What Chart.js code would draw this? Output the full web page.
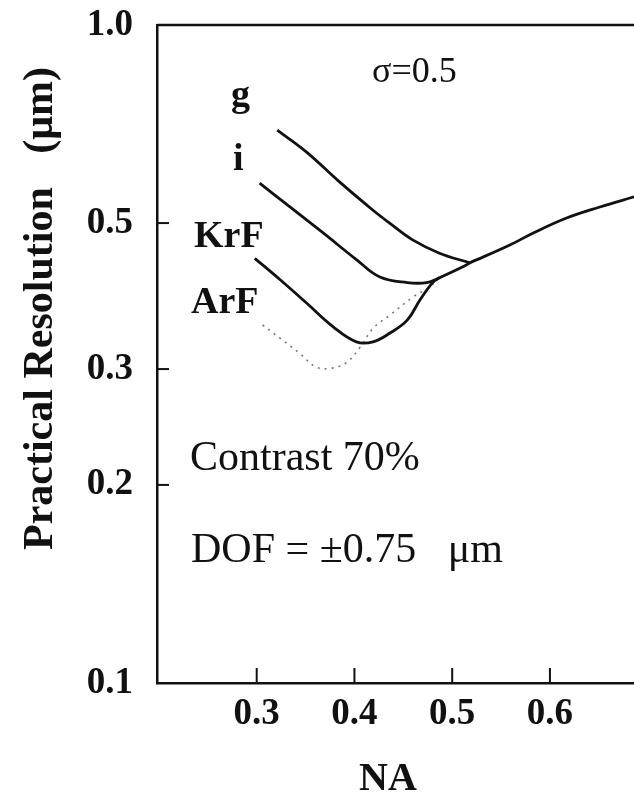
<!DOCTYPE html>
<html><head><meta charset="utf-8">
<script src="https://cdn.jsdelivr.net/npm/chart.js@4.4.0/dist/chart.umd.min.js"></script>
<style>html,body{margin:0;padding:0;background:#fff;}#wrap{width:634px;height:793px;position:relative;}</style>
</head><body><div id="wrap"><canvas id="c" width="634" height="793"></canvas></div>
<script>
// ---- data ----
const xTicks = [0.3, 0.4, 0.5, 0.6];
const yTicks = [0.1, 0.2, 0.3, 0.5, 1.0];

const gNA   = [0.321, 0.351, 0.385, 0.419, 0.436, 0.460, 0.487, 0.518];
const gRes  = [0.692, 0.641, 0.577, 0.523, 0.500, 0.471, 0.450, 0.435];

const iNA   = [0.303, 0.334, 0.368, 0.402, 0.426, 0.454, 0.474, 0.487, 0.511, 0.518];
const iRes  = [0.575, 0.529, 0.483, 0.440, 0.414, 0.406, 0.406, 0.413, 0.429, 0.435];

const krfNA  = [0.298, 0.324, 0.351, 0.378, 0.402, 0.419, 0.436, 0.454, 0.467, 0.480, 0.487];
const krfRes = [0.442, 0.410, 0.378, 0.348, 0.330, 0.330, 0.340, 0.356, 0.382, 0.406, 0.413];

const arfNA  = [0.306, 0.324, 0.344, 0.361, 0.377, 0.392, 0.406, 0.419, 0.436, 0.460, 0.477, 0.487];
const arfRes = [0.350, 0.334, 0.317, 0.302, 0.301, 0.307, 0.324, 0.346, 0.362, 0.386, 0.400, 0.413];

const commonNA  = [0.518, 0.559, 0.583, 0.617, 0.651, 0.686];
const commonRes = [0.435, 0.463, 0.483, 0.509, 0.529, 0.548];

const seriesNames = ['g', 'i', 'KrF', 'ArF'];

const pts = (xs, ys) => xs.map((x, k) => ({x: x, y: ys[k]}));
const SERIF = '"Liberation Serif", "DejaVu Serif", serif';
const INK = '#111';

function lineDs(label, xs, ys, opts) {
  return Object.assign({
    label: label, data: pts(xs, ys), borderColor: INK, borderWidth: 2.8,
    pointRadius: 0, fill: false, tension: 0.4
  }, opts || {});
}

const decor = {
  id: 'decor',
  afterDraw(chart) {
    const ctx = chart.ctx, a = chart.chartArea;
    const xs = chart.scales.x, ys = chart.scales.y;
    ctx.save();
    ctx.strokeStyle = INK; ctx.lineWidth = 2.5;
    // top frame line
    ctx.beginPath(); ctx.moveTo(a.left, a.top); ctx.lineTo(a.right, a.top); ctx.stroke();
    // inward tick marks
    ctx.lineWidth = 2;
    xTicks.forEach(v => { const p = xs.getPixelForValue(v);
      ctx.beginPath(); ctx.moveTo(p, a.bottom); ctx.lineTo(p, a.bottom - 15); ctx.stroke(); });
    yTicks.slice(1, -1).forEach(v => { const p = ys.getPixelForValue(v);
      ctx.beginPath(); ctx.moveTo(a.left, p); ctx.lineTo(a.left + 12, p); ctx.stroke(); });

    ctx.fillStyle = INK; ctx.textBaseline = 'alphabetic'; ctx.textAlign = 'left';
    // curve names
    ctx.font = 'bold 38px ' + SERIF;
    ctx.fillText(seriesNames[0], 231, 106);
    ctx.fillText(seriesNames[1], 233, 170);
    ctx.fillText(seriesNames[2], 194, 247);
    ctx.fillText(seriesNames[3], 191, 313);
    // sigma
    ctx.font = '36px ' + SERIF;
    ctx.fillText('\u03C3=0.5', 372, 82);
    // notes
    ctx.font = '42px ' + SERIF;
    ctx.fillText('Contrast 70%', 190, 470);
    ctx.fillText('DOF = \u00B10.75   \u03BCm', 191, 562);
    // x title
    ctx.font = 'bold 40px ' + SERIF; ctx.textAlign = 'center';
    ctx.fillText('NA', 388, 790);
    // y title (rotated)
    ctx.font = 'bold 42px ' + SERIF;
    ctx.save(); ctx.translate(52, 550); ctx.rotate(-Math.PI / 2);
    ctx.textAlign = 'left'; ctx.fillText('Practical Resolution', 0, 0); ctx.restore();
    ctx.save(); ctx.translate(52, 67); ctx.rotate(-Math.PI / 2);
    ctx.textAlign = 'right'; ctx.fillText('(\u03BCm)', 0, 0); ctx.restore();
    ctx.restore();
  }
};

new Chart(document.getElementById('c'), {
  type: 'line',
  data: { datasets: [
    lineDs(seriesNames[0], gNA, gRes),
    lineDs(seriesNames[1], iNA, iRes),
    lineDs(seriesNames[2], krfNA, krfRes),
    lineDs(seriesNames[3], arfNA, arfRes, {borderColor: '#777', borderWidth: 1.6, borderDash: [2, 5]}),
    lineDs('common', commonNA, commonRes)
  ]},
  options: {
    responsive: false, animation: false, devicePixelRatio: 1,
    layout: { padding: {top: 25, left: 0, right: 0, bottom: 0} },
    plugins: { legend: {display: false}, tooltip: {enabled: false} },
    scales: {
      x: {
        type: 'linear', min: 0.198, max: 0.686,
        grid: {display: false, drawTicks: false},
        border: {display: true, color: INK, width: 2.5},
        afterFit(s) { s.height = 110; s.paddingLeft = 0; s.paddingRight = 0; },
        afterBuildTicks(s) { s.ticks = xTicks.map(v => ({value: v})); },
        ticks: { autoSkip: false, maxRotation: 0, padding: 9, color: INK,
          font: {family: SERIF, size: 37, weight: 'bold'},
          callback: v => Number(v).toFixed(1) }
      },
      y: {
        type: 'logarithmic', min: 0.1, max: 1.0,
        grid: {display: false, drawTicks: false},
        border: {display: true, color: INK, width: 2.5},
        afterFit(s) { s.width = 157; s.paddingTop = 0; s.paddingBottom = 0; },
        afterBuildTicks(s) { s.ticks = yTicks.map(v => ({value: v})); },
        ticks: { autoSkip: false, padding: 24, color: INK,
          font: {family: SERIF, size: 37, weight: 'bold'},
          callback: v => Number(v).toFixed(1) }
      }
    }
  },
  plugins: [decor]
});
</script></body></html>
